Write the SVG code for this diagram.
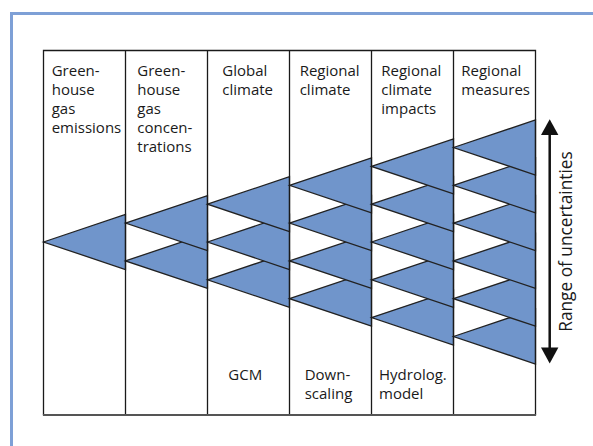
<svg xmlns="http://www.w3.org/2000/svg" width="593" height="446" viewBox="0 0 593 446">
  <style>
    .frame { fill: none; stroke: #7ea0d6; stroke-width: 3; }
    .grid { fill: none; stroke: #1a1a1a; stroke-width: 1.3; }
    .base { stroke: #555; stroke-width: 2; }
    .tri { fill: #7095cb; stroke: #222; stroke-width: 1.3; stroke-linejoin: miter; }
    .lbl { font-family: "Open Sans", "Noto Sans", "DejaVu Sans", sans-serif; font-size: 15px; fill: #1a1a1a; }
    .big { font-size: 17.3px; }
    .axis { stroke: #111; stroke-width: 2.5; fill: none; }
    .head { fill: #111; }
  </style>
  <defs>
    <!-- one uncertainty wedge: apex on the left, base on the right, 82 wide -->
    <polygon id="wedge" points="0,0 82,-27.5 82,27.5"/>
  </defs>

  <rect width="593" height="446" fill="#fff"/>
  <rect class="frame" x="11.5" y="13.5" width="600" height="450"/>

  <!-- wedges are stacked bottom-up so each upper wedge covers the one below -->

  <!-- column 1 -->
  <g id="col-emissions">
    <use href="#wedge" class="tri" x="43.5" y="242"/>
    <text class="lbl" x="51.7" y="76">Green-</text>
    <text class="lbl" x="51.7" y="95.1">house</text>
    <text class="lbl" x="51.7" y="114.2">gas</text>
    <text class="lbl" x="51.7" y="133.3">emissions</text>
  </g>

  <!-- column 2 -->
  <g id="col-concentrations">
    <use href="#wedge" class="tri" x="125.5" y="260.9"/>
    <use href="#wedge" class="tri" x="125.5" y="223.1"/>
    <text class="lbl" x="137.3" y="76">Green-</text>
    <text class="lbl" x="137.3" y="95.1">house</text>
    <text class="lbl" x="137.3" y="114.2">gas</text>
    <text class="lbl" x="137.3" y="133.3">concen-</text>
    <text class="lbl" x="137.3" y="152.4">trations</text>
  </g>

  <!-- column 3 -->
  <g id="col-global-climate">
    <use href="#wedge" class="tri" x="207.5" y="279.8"/>
    <use href="#wedge" class="tri" x="207.5" y="242"/>
    <use href="#wedge" class="tri" x="207.5" y="204.2"/>
    <text class="lbl" x="222.3" y="76">Global</text>
    <text class="lbl" x="222.3" y="95.1">climate</text>
    <text class="lbl" x="228.3" y="380.3">GCM</text>
  </g>

  <!-- column 4 -->
  <g id="col-regional-climate">
    <use href="#wedge" class="tri" x="289.5" y="298.7"/>
    <use href="#wedge" class="tri" x="289.5" y="260.9"/>
    <use href="#wedge" class="tri" x="289.5" y="223.1"/>
    <use href="#wedge" class="tri" x="289.5" y="185.3"/>
    <text class="lbl" x="299.7" y="76">Regional</text>
    <text class="lbl" x="299.7" y="95.1">climate</text>
    <text class="lbl" x="304.7" y="380.3">Down-</text>
    <text class="lbl" x="304.7" y="399.4">scaling</text>
  </g>

  <!-- column 5 -->
  <g id="col-climate-impacts">
    <use href="#wedge" class="tri" x="371.5" y="317.6"/>
    <use href="#wedge" class="tri" x="371.5" y="279.8"/>
    <use href="#wedge" class="tri" x="371.5" y="242"/>
    <use href="#wedge" class="tri" x="371.5" y="204.2"/>
    <use href="#wedge" class="tri" x="371.5" y="166.4"/>
    <text class="lbl" x="381.3" y="76">Regional</text>
    <text class="lbl" x="381.3" y="95.1">climate</text>
    <text class="lbl" x="381.3" y="114.2">impacts</text>
    <text class="lbl" x="379" y="380.3">Hydrolog.</text>
    <text class="lbl" x="379" y="399.4">model</text>
  </g>

  <!-- column 6 -->
  <g id="col-measures">
    <use href="#wedge" class="tri" x="453.5" y="336.5"/>
    <use href="#wedge" class="tri" x="453.5" y="298.7"/>
    <use href="#wedge" class="tri" x="453.5" y="260.9"/>
    <use href="#wedge" class="tri" x="453.5" y="223.1"/>
    <use href="#wedge" class="tri" x="453.5" y="185.3"/>
    <use href="#wedge" class="tri" x="453.5" y="147.5"/>
    <text class="lbl" x="461.3" y="76">Regional</text>
    <text class="lbl" x="461.3" y="95.1">measures</text>
  </g>

  <!-- table rules -->
  <g id="table">
    <path class="grid" d="M43.5,415 V50.5 H535.5 V415 M125.5,50.5 V415 M207.5,50.5 V415 M289.5,50.5 V415 M371.5,50.5 V415 M453.5,50.5 V415"/>
    <line class="base" x1="42.9" y1="415" x2="536.1" y2="415"/>
  </g>

  <!-- double-headed range arrow -->
  <g id="connectors">
    <line class="axis" x1="549.7" y1="133" x2="549.7" y2="349"/>
    <polygon class="head" points="549.7,119.3 541,135 558.4,135"/>
    <polygon class="head" points="549.7,363.5 541,347.5 558.4,347.5"/>
  </g>

  <g id="range-label">
    <text class="lbl big" x="0" y="0" text-anchor="middle" transform="translate(572,241.5) rotate(-90)">Range of uncertainties</text>
  </g>
</svg>
